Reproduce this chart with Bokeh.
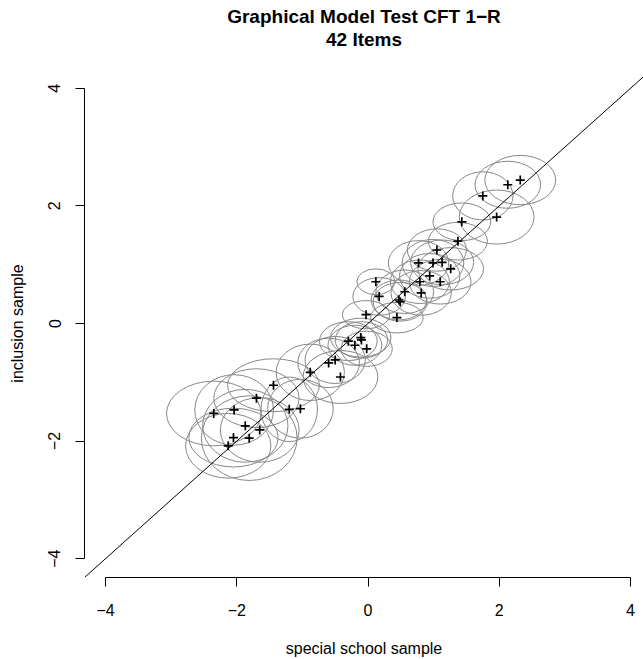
from bokeh.plotting import figure
from bokeh.models import (ColumnDataSource, FixedTicker, Slope, Title, Range1d)
from bokeh.embed import file_html
from bokeh.resources import INLINE

# ---- data ----
special = [2.32, 2.13, 1.75, 1.96, 1.43, 1.37, 1.05, 0.77, 0.99, 1.13,
           1.26, 0.94, 1.10, 0.79, 0.56, 0.81, 0.12, 0.17, 0.47, 0.44,
           -0.03, -0.30, -0.20, -0.11, -0.10, -0.02, -0.60, -0.50, -0.88, -0.42,
           -1.44, -1.70, -1.20, -1.03, -2.04, -1.87, -1.65, -2.05, -1.81, -2.13,
           -2.35, 0.49]
inclusion = [2.44, 2.36, 2.17, 1.81, 1.73, 1.40, 1.25, 1.03, 1.03, 1.04,
             0.93, 0.81, 0.71, 0.71, 0.54, 0.52, 0.71, 0.46, 0.40, 0.10,
             0.15, -0.30, -0.37, -0.24, -0.28, -0.43, -0.67, -0.62, -0.83, -0.91,
             -1.05, -1.27, -1.46, -1.45, -1.47, -1.74, -1.81, -1.94, -1.95, -2.08,
             -1.53, 0.37]
# ellipse half-widths (special school) and half-heights (inclusion)
ci_special = [0.54, 0.50, 0.46, 0.57, 0.44, 0.45, 0.45, 0.46, 0.47, 0.48,
              0.50, 0.46, 0.47, 0.45, 0.44, 0.46, 0.29, 0.40, 0.42, 0.40,
              0.36, 0.44, 0.41, 0.46, 0.40, 0.39, 0.47, 0.46, 0.52, 0.57,
              0.70, 0.65, 0.43, 0.50, 0.60, 0.65, 0.60, 0.68, 0.73, 0.65,
              0.72, 0.41]
ci_inclusion = [0.42, 0.40, 0.41, 0.46, 0.32, 0.32, 0.36, 0.38, 0.40, 0.38,
                0.36, 0.38, 0.38, 0.37, 0.37, 0.38, 0.22, 0.32, 0.34, 0.26,
                0.24, 0.33, 0.34, 0.33, 0.31, 0.30, 0.42, 0.40, 0.48, 0.45,
                0.45, 0.50, 0.55, 0.50, 0.60, 0.62, 0.55, 0.50, 0.72, 0.55,
                0.55, 0.33]
ticks = [-4, -2, 0, 2, 4]
tick_labels = ["\u22124", "\u22122", "0", "2", "4"]
title_line1 = "Graphical Model Test CFT 1\u2212R"
title_line2 = "42 Items"
x_label = "special school sample"
y_label = "inclusion sample"

FONT = "Liberation Sans"

src = ColumnDataSource(dict(
    x=special, y=inclusion,
    w=[2 * v for v in ci_special], h=[2 * v for v in ci_inclusion]))

p = figure(width=643, height=659, output_backend="svg", toolbar_location=None,
           x_range=Range1d(-4.32, 4.198), y_range=Range1d(-4.32, 4.32),
           min_border_left=84, min_border_right=0, min_border_top=69,
           min_border_bottom=80)
p.outline_line_color = None
p.grid.visible = False
p.background_fill_color = "white"
p.border_fill_color = "white"

p.ellipse(x="x", y="y", width="w", height="h", source=src,
          fill_color=None, line_color="#888888", line_width=1)
p.add_layout(Slope(gradient=1, y_intercept=0, line_color="black", line_width=1))
p.scatter(x="x", y="y", source=src, marker="cross", size=9,
          line_color="black", line_width=1.7)

overrides = {t: l for t, l in zip(ticks, tick_labels)}
for ax in (p.xaxis[0], p.yaxis[0]):
    ax.ticker = FixedTicker(ticks=ticks, minor_ticks=[])
    ax.bounds = (-4, 4)
    ax.major_label_overrides = overrides
    ax.axis_line_color = "black"
    ax.axis_line_width = 1
    ax.major_tick_line_color = "black"
    ax.major_tick_in = 0
    ax.major_tick_out = 9
    ax.minor_tick_line_color = None
    ax.major_label_text_font = FONT
    ax.major_label_text_font_size = "16px"
    ax.major_label_text_color = "black"
    ax.axis_label_text_font = FONT
    ax.axis_label_text_font_size = "16px"
    ax.axis_label_text_font_style = "normal"
    ax.axis_label_text_color = "black"

p.xaxis[0].axis_label = x_label
p.xaxis[0].major_label_standoff = 17
p.xaxis[0].axis_label_standoff = 21
p.yaxis[0].axis_label = y_label
p.yaxis[0].major_label_orientation = "vertical"
p.yaxis[0].major_label_standoff = 15
p.yaxis[0].axis_label_standoff = 20

# spacer panel between the plot and the two title lines
p.add_layout(Title(text=" ", text_font_size="2px", standoff=16,
                   text_color="white"), "above")
for txt in (title_line2, title_line1):
    p.add_layout(Title(text=txt, align="center", standoff=0,
                       text_font=FONT, text_font_size="19px",
                       text_font_style="bold", text_color="black"), "above")

open("out.html", "w").write(file_html(p, INLINE))
